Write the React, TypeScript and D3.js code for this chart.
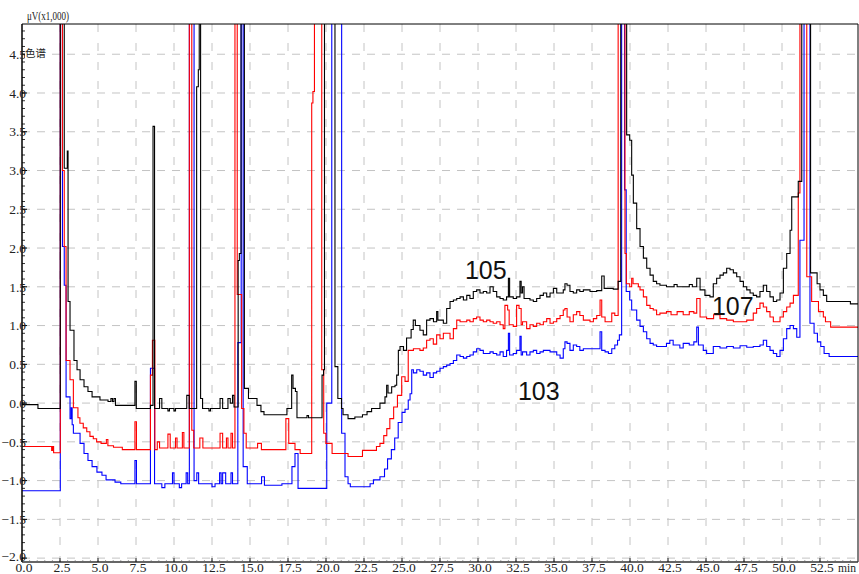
import React from "react";
import * as d3 from "d3";

// Retention time (min) tick labels and detector signal tick labels (µV ×1000)
const xTickValues = [0, 2.5, 5, 7.5, 10, 12.5, 15, 17.5, 20, 22.5, 25, 27.5, 30, 32.5, 35, 37.5, 40, 42.5, 45, 47.5, 50, 52.5];
const yTickValues = [-2.0, -1.5, -1.0, -0.5, 0.0, 0.5, 1.0, 1.5, 2.0, 2.5, 3.0, 3.5, 4.0, 4.5];

// Chromatogram traces: [time (min), signal (µV ×1000)], sampled as steps
const blackTrace: [number, number][] = [
  [0, -0.02], [1.05, -0.07], [2.52, 6], [2.78, 3.03], [2.98, 3.25], [3.03, 1.31], [3.16, 0.94],
  [3.42, 0.55], [3.62, 0.43], [3.82, 0.3], [4.08, 0.21], [4.34, 0.15], [4.61, 0.08], [5.13, 0.04],
  [5.66, 0.02], [5.85, 0.06], [5.95, 0.02], [6.05, 0.06], [6.15, -0.03], [7.43, 0.28], [7.52, -0.07],
  [8.45, -0.03], [8.62, 3.57], [8.72, -0.07], [9.05, 0.06], [9.2, -0.07], [9.6, -0.1], [9.7, -0.07],
  [10.0, -0.1], [10.1, -0.07], [10.84, 0.1], [11.0, -0.07], [11.49, 4.08], [11.6, 4.3], [11.66, 6],
  [11.75, 0.06], [11.88, -0.07], [12.3, -0.1], [12.4, -0.07], [13.03, 0.06], [13.2, -0.07],
  [13.55, 0.06], [13.7, 0.0], [13.85, 0.1], [13.95, -0.05], [14.22, 1.84], [14.3, 1.93], [14.41, 6],
  [14.63, 0.19], [14.9, 0.06], [15.46, -0.03], [15.72, -0.11], [15.92, -0.15], [17.43, -0.07],
  [17.74, 0.36], [17.83, 0.19], [17.99, 0.15], [18.09, -0.19], [18.75, -0.16], [18.85, -0.19],
  [19.74, 0.36], [19.84, 0.43], [19.9, 6], [20.59, 0.47], [20.78, 0.06], [21.02, -0.07],
  [21.12, -0.15], [21.45, -0.2], [21.9, -0.18], [22.4, -0.15], [22.7, -0.11], [23.0, -0.07],
  [23.55, 0.0], [23.88, 0.08], [23.99, 0.23], [24.08, 0.13], [24.32, 0.21], [24.54, 0.23],
  [24.65, 0.36], [24.76, 0.68], [24.87, 0.73], [25.1, 0.68], [25.3, 0.84], [25.6, 0.95],
  [25.74, 1.07], [25.88, 1.0], [26.18, 0.94], [26.4, 0.88], [26.62, 1.07], [26.84, 1.09],
  [27.07, 1.05], [27.28, 1.18], [27.36, 1.07], [27.72, 1.03], [27.94, 1.22], [28.16, 1.31],
  [28.38, 1.33], [28.6, 1.35], [28.82, 1.37], [29.04, 1.33], [29.26, 1.39], [29.47, 1.35],
  [29.69, 1.44], [29.91, 1.46], [30.13, 1.42], [30.35, 1.44], [30.57, 1.42], [30.79, 1.5],
  [31.0, 1.44], [31.23, 1.37], [31.45, 1.35], [31.66, 1.33], [31.88, 1.37], [32.0, 1.61],
  [32.08, 1.37], [32.32, 1.35], [32.54, 1.37], [32.76, 1.57], [32.84, 1.42], [32.93, 1.5],
  [33.03, 1.35], [33.42, 1.33], [33.64, 1.31], [33.86, 1.35], [34.08, 1.39], [34.3, 1.42],
  [34.52, 1.37], [34.74, 1.42], [34.96, 1.48], [35.18, 1.42], [35.61, 1.46], [35.72, 1.54],
  [35.86, 1.52], [36.05, 1.44], [36.27, 1.42], [36.49, 1.46], [36.7, 1.44], [36.93, 1.46],
  [37.37, 1.44], [37.81, 1.45], [38.14, 1.64], [38.3, 1.48], [38.9, 1.47], [39.22, 1.57],
  [39.39, 6], [39.78, 3.46], [39.98, 3.39], [40.11, 2.94], [40.22, 2.58], [40.44, 2.25],
  [40.66, 2.02], [40.88, 1.87], [41.1, 1.74], [41.32, 1.65], [41.53, 1.57], [41.75, 1.54],
  [41.97, 1.52], [42.4, 1.5], [42.9, 1.53], [43.1, 1.5], [43.9, 1.53], [44.1, 1.5], [44.39, 1.61],
  [44.61, 1.46], [44.93, 1.39], [45.26, 1.37], [45.48, 1.54], [45.7, 1.61], [45.92, 1.65],
  [46.14, 1.68], [46.36, 1.74], [46.58, 1.72], [46.8, 1.68], [47.02, 1.63], [47.24, 1.57],
  [47.46, 1.5], [47.68, 1.46], [47.9, 1.42], [48.11, 1.39], [48.33, 1.37], [48.55, 1.44],
  [48.77, 1.52], [48.99, 1.44], [49.21, 1.37], [49.43, 1.31], [49.65, 1.33], [49.87, 1.42],
  [50.09, 1.74], [50.31, 1.93], [50.53, 2.23], [50.64, 2.66], [51.07, 2.86], [51.3, 6],
  [51.88, 1.68], [52.31, 1.54], [52.5, 1.46], [52.72, 1.39], [52.94, 1.31], [54.5, 1.28], [55, 1.28],
];

const redTrace: [number, number][] = [
  [0, -0.56], [1.95, -0.61], [2.02, -0.56], [2.08, -0.64], [2.52, 6], [2.66, 3.0], [2.78, 2.02],
  [2.9, 0.55], [3.16, 0.3], [3.38, -0.06], [3.68, -0.19], [3.81, -0.26], [4.03, -0.32],
  [4.26, -0.37], [4.47, -0.43], [4.69, -0.46], [4.91, -0.5], [5.2, -0.52], [5.55, -0.47],
  [5.65, -0.55], [6.02, -0.57], [6.6, -0.6], [7.43, -0.24], [7.53, -0.6], [8.45, 0.36],
  [8.58, 0.81], [8.74, -0.6], [8.9, -0.5], [9.05, -0.58], [9.6, -0.4], [9.75, -0.58],
  [10.1, -0.45], [10.2, -0.58], [10.55, -0.38], [10.65, -0.58], [11.01, 6], [11.17, -0.35],
  [11.3, -0.58], [11.7, -0.45], [11.9, -0.58], [13.03, -0.39], [13.2, -0.58], [13.45, -0.45],
  [13.55, -0.58], [13.75, -0.39], [13.85, -0.58], [14.01, 6], [14.16, 1.4], [14.45, -0.07],
  [14.6, -0.39], [14.75, -0.58], [15.5, -0.52], [15.75, -0.6], [17.36, -0.2], [17.55, -0.52],
  [17.96, -0.6], [18.3, -0.65], [19.06, 3.87], [19.14, 4.02], [19.24, 6], [19.72, 0.43],
  [19.85, -0.39], [19.99, -0.52], [20.4, -0.65], [21.45, -0.69], [22.4, -0.61], [23.32, -0.56],
  [23.55, -0.52], [23.8, -0.42], [24.0, -0.33], [24.2, -0.2], [24.45, -0.05], [24.7, 0.1],
  [24.98, 0.34], [25.2, 0.28], [25.41, 0.68], [25.75, 0.7], [26.18, 0.68], [26.4, 0.71],
  [26.62, 0.81], [26.84, 0.83], [27.06, 0.76], [27.28, 0.88], [27.5, 0.83], [27.72, 0.9],
  [28.16, 0.83], [28.38, 0.96], [28.6, 1.07], [28.82, 1.05], [29.26, 1.07], [29.47, 1.05],
  [29.69, 1.09], [29.91, 1.11], [30.13, 1.07], [30.35, 1.05], [30.57, 1.07], [30.79, 1.05],
  [31.0, 1.03], [31.23, 1.05], [31.45, 1.01], [31.66, 0.96], [31.77, 1.26], [31.95, 1.2],
  [32.05, 1.01], [32.32, 0.99], [32.54, 1.26], [32.7, 1.22], [32.84, 1.01], [32.93, 1.05],
  [33.2, 0.96], [33.42, 1.01], [33.64, 0.99], [33.86, 1.03], [34.08, 1.01], [34.3, 1.05],
  [34.52, 1.09], [34.74, 1.03], [34.96, 1.05], [35.18, 1.09], [35.4, 1.13], [35.61, 1.2],
  [35.72, 1.22], [35.86, 1.11], [36.05, 1.05], [36.27, 1.14], [36.49, 1.18], [36.7, 1.13],
  [36.93, 1.07], [37.37, 1.05], [37.59, 1.09], [37.81, 1.13], [38.03, 1.33], [38.14, 1.11],
  [38.36, 1.05], [38.8, 1.16], [39.0, 1.13], [39.22, 6], [39.67, 1.93], [39.76, 1.54],
  [39.98, 1.5], [40.11, 1.61], [40.2, 1.54], [40.55, 1.5], [40.66, 1.46], [40.88, 1.37],
  [41.1, 1.26], [41.32, 1.22], [41.53, 1.2], [41.75, 1.14], [41.97, 1.16], [42.4, 1.18],
  [42.7, 1.14], [43.1, 1.18], [43.5, 1.14], [43.9, 1.18], [44.2, 1.16], [44.39, 1.35],
  [44.61, 1.11], [45.04, 1.09], [45.5, 1.14], [45.92, 1.09], [46.36, 1.07], [46.8, 1.05],
  [47.68, 1.07], [48.11, 1.16], [48.33, 1.22], [48.55, 1.29], [48.77, 1.24], [48.99, 1.18],
  [49.21, 1.11], [49.43, 1.05], [49.87, 1.11], [50.09, 1.18], [50.31, 1.24], [50.53, 1.29],
  [50.75, 1.39], [51.07, 2.71], [51.18, 6], [51.63, 1.63], [51.95, 1.31], [52.4, 1.18],
  [52.72, 1.11], [52.86, 1.05], [53.2, 0.98], [55, 0.97],
];

const blueTrace: [number, number][] = [
  [0, -1.13], [2.52, 6], [2.66, 2.02], [2.78, 1.52], [2.9, 0.08], [3.16, -0.2], [3.24, -0.06],
  [3.3, -0.28], [3.38, -0.39], [3.82, -0.52], [4.08, -0.65], [4.34, -0.74], [4.61, -0.82],
  [4.93, -0.89], [5.26, -0.93], [5.53, -0.99], [6.12, -1.02], [6.5, -1.04], [7.43, -0.74],
  [7.53, -1.04], [8.45, 0.45], [8.72, -1.04], [9.2, -1.09], [9.4, -1.04], [9.9, -0.9],
  [10.0, -1.04], [10.35, -1.09], [10.5, -1.04], [10.8, -0.9], [10.9, -1.04], [11.01, 6],
  [11.32, -1.0], [11.5, -0.9], [11.62, -1.04], [12.5, -1.08], [12.7, -1.04], [13.0, -0.9],
  [13.1, -1.04], [13.2, -0.9], [13.4, -1.04], [13.75, -0.9], [13.85, -1.04], [14.2, 0.78],
  [14.42, 6], [14.55, -0.82], [14.82, -1.04], [15.76, -0.95], [15.95, -1.06], [17.1, -1.04],
  [17.76, -0.82], [17.96, -0.65], [18.16, -1.1], [20.05, 0.0], [20.38, 6], [21.03, -0.39],
  [21.25, -0.95], [21.45, -1.04], [21.6, -1.08], [22.9, -1.04], [23.12, -0.99], [23.55, -0.95],
  [23.85, -0.85], [24.05, -0.72], [24.3, -0.6], [24.52, -0.45], [24.75, -0.25], [25.0, -0.12],
  [25.2, -0.08], [25.41, 0.04], [25.53, 0.12], [25.64, 0.43], [25.75, 0.39], [25.97, 0.43],
  [26.18, 0.41], [26.4, 0.36], [26.62, 0.39], [26.84, 0.33], [27.06, 0.39], [27.28, 0.41],
  [27.5, 0.45], [27.72, 0.47], [27.94, 0.49], [28.16, 0.51], [28.38, 0.55], [28.6, 0.62],
  [28.82, 0.6], [29.04, 0.58], [29.26, 0.6], [29.47, 0.62], [29.69, 0.66], [29.91, 0.7],
  [30.13, 0.68], [30.35, 0.64], [30.79, 0.66], [31.0, 0.64], [31.23, 0.62], [31.45, 0.66],
  [31.66, 0.6], [31.88, 0.68], [32.0, 0.9], [32.08, 0.62], [32.32, 0.64], [32.54, 0.68],
  [32.76, 0.86], [32.84, 0.62], [32.93, 0.66], [33.2, 0.62], [33.42, 0.66], [33.64, 0.68],
  [33.86, 0.64], [34.08, 0.66], [34.3, 0.68], [34.52, 0.68], [34.74, 0.66], [35.18, 0.62],
  [35.4, 0.58], [35.61, 0.7], [35.72, 0.79], [35.86, 0.77], [36.05, 0.68], [36.27, 0.75],
  [36.49, 0.73], [36.7, 0.68], [36.93, 0.7], [37.37, 0.7], [37.81, 0.7], [38.03, 0.92],
  [38.14, 0.68], [38.36, 0.66], [38.58, 0.64], [38.8, 0.7], [39.0, 0.75], [39.18, 0.81],
  [39.3, 0.88], [39.45, 6], [39.64, 2.75], [39.75, 1.44], [39.98, 1.33], [40.11, 1.2],
  [40.44, 1.07], [40.66, 0.99], [40.88, 0.92], [41.1, 0.83], [41.32, 0.77], [41.53, 0.75],
  [41.75, 0.73], [42.4, 0.77], [42.62, 0.81], [42.84, 0.75], [43.28, 0.71], [43.5, 0.77],
  [43.9, 0.75], [44.2, 0.79], [44.39, 0.98], [44.5, 0.75], [44.82, 0.68], [45.04, 0.64],
  [45.48, 0.73], [45.92, 0.71], [46.36, 0.73], [46.8, 0.71], [47.24, 0.74], [47.68, 0.72],
  [48.11, 0.73], [48.55, 0.75], [48.77, 0.81], [48.99, 0.73], [49.21, 0.68], [49.43, 0.64],
  [49.65, 0.6], [49.87, 0.68], [50.09, 0.83], [50.31, 0.96], [50.53, 1.0], [50.75, 0.96],
  [50.97, 0.85], [51.18, 2.1], [51.45, 6], [51.84, 1.03], [52.11, 0.9], [52.33, 0.79],
  [52.55, 0.73], [52.77, 0.64], [53.1, 0.6], [55, 0.6],
];

// Peak annotations placed at [time, signal] of their text baseline start
const peakLabels = ["105", "103", "107"];
const peakLabelAnchors: [number, number][] = [[29.14, 1.6], [32.63, 0.04], [45.39, 1.135]];

const traces = [
  { data: blueTrace, color: "#0000ff" },
  { data: redTrace, color: "#ff0000" },
  { data: blackTrace, color: "#000000" },
];

const W = 859;
const H = 574;
const LEFT = 22;
const RIGHT = 858;
const TOP = 24;
const BOTTOM = 562;

export default function App() {
  const x = d3.scaleLinear().domain([0, 55]).range([LEFT, RIGHT]);
  const y = d3.scaleLinear().domain([-2.05, 4.89]).range([BOTTOM, TOP]);
  const line = d3
    .line<[number, number]>()
    .x((d) => x(d[0]))
    .y((d) => y(d[1]))
    .curve(d3.curveStepAfter);

  const fmt = d3.format(".1f");
  const yMinor = d3.range(-20, 49).map((i) => i / 10);
  const xMinor = d3.range(0, 110).map((i) => i / 2);

  const serif = "'Liberation Serif', 'DejaVu Serif', serif";

  return (
    <svg
      width={W}
      height={H}
      viewBox={`0 0 ${W} ${H}`}
      style={{ position: "absolute", left: 0, top: 0, background: "#fff" }}
    >
      <defs>
        <clipPath id="plot-clip">
          <rect x={LEFT} y={TOP} width={RIGHT - LEFT} height={BOTTOM - TOP} />
        </clipPath>
      </defs>
      <rect x={0} y={0} width={W} height={H} fill="#fff" />

      {/* grid */}
      <g stroke="#c4c4c4" strokeWidth={1} fill="none">
        {yTickValues.map((v) => (
          <line key={"gy" + v} x1={LEFT} x2={RIGHT} y1={y(v)} y2={y(v)} strokeDasharray="8,7" />
        ))}
        {xTickValues.filter((t) => t > 0).map((t) => (
          <line key={"gx" + t} x1={x(t)} x2={x(t)} y1={TOP} y2={BOTTOM} strokeDasharray="8,11" />
        ))}
      </g>

      {/* traces */}
      <g clipPath="url(#plot-clip)" fill="none">
        {traces.map((tr, i) => (
          <path key={i} d={line(tr.data) || ""} stroke={tr.color} strokeWidth={1.1} />
        ))}
      </g>

      {/* frame and axes */}
      <g stroke="#000" fill="none">
        <line x1={LEFT} x2={RIGHT} y1={TOP} y2={TOP} strokeWidth={1} />
        <line x1={RIGHT} x2={RIGHT} y1={TOP} y2={BOTTOM} strokeWidth={1} />
        <line x1={LEFT} x2={LEFT} y1={TOP} y2={BOTTOM} strokeWidth={1.5} />
        <line x1={LEFT} x2={RIGHT} y1={BOTTOM} y2={BOTTOM} strokeWidth={1.5} stroke="#333" />
        {yMinor.map((v) => (
          <line key={"ym" + v} x1={LEFT} x2={LEFT + 3} y1={y(v)} y2={y(v)} strokeWidth={0.8} />
        ))}
        {yTickValues.map((v) => (
          <line key={"yM" + v} x1={LEFT} x2={LEFT + 5} y1={y(v)} y2={y(v)} strokeWidth={1} />
        ))}
        {xMinor.map((t) => (
          <line key={"xm" + t} x1={x(t)} x2={x(t)} y1={BOTTOM} y2={BOTTOM - 2} strokeWidth={0.6} stroke="#666" />
        ))}
        {xTickValues.map((t) => (
          <line key={"xM" + t} x1={x(t)} x2={x(t)} y1={BOTTOM} y2={BOTTOM - 4} strokeWidth={0.8} />
        ))}
      </g>

      {/* tick labels */}
      <g fontFamily={serif} fontSize={13.5} fill="#222">
        {yTickValues.map((v) => (
          <text key={"yl" + v} x={26} y={y(v) - (v === -2 ? 2 : 0)} dy="0.35em" textAnchor="end">
            {fmt(v)}
          </text>
        ))}
        {xTickValues.map((t) => (
          <text key={"xl" + t} x={x(t) + 2} y={572} textAnchor="middle">
            {fmt(t)}
          </text>
        ))}
        <text x={838} y={572} fontSize={12} textLength={18} lengthAdjust="spacingAndGlyphs">min</text>
        <text x={27} y={20} fontSize={12} textLength={42} lengthAdjust="spacingAndGlyphs">μV(x1,000)</text>
      </g>

      {/* channel caption */}
      <rect x={25} y={46} width={21} height={13} fill="#fff" />
      <text x={25} y={57} fontFamily="'Noto Sans CJK SC', sans-serif" fontSize={10.5} fill="#222">
        色谱
      </text>

      {/* peak labels */}
      <g fontFamily="'Liberation Sans', Arial, sans-serif" fontSize={25} fill="#111">
        {peakLabels.map((s, i) => (
          <text key={s} x={x(peakLabelAnchors[i][0])} y={y(peakLabelAnchors[i][1])}>
            {s}
          </text>
        ))}
      </g>
    </svg>
  );
}
